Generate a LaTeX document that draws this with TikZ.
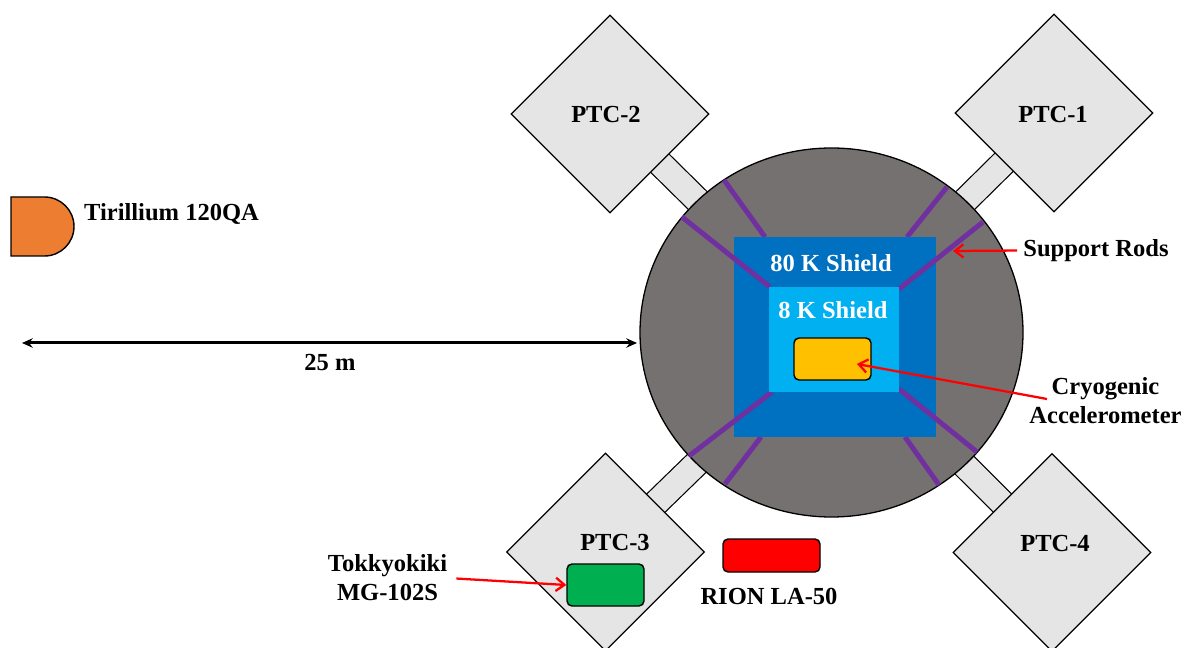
\documentclass[tikz,border=0pt]{standalone}
\usepackage{fontspec}
\setmainfont{Liberation Serif}
\usetikzlibrary{arrows.meta,backgrounds,shapes.geometric,shapes.misc}
\definecolor{vesselgray}{HTML}{767171}
\definecolor{ptcgray}{HTML}{E5E5E5}
\definecolor{shieldA}{HTML}{0070C0}
\definecolor{shieldB}{HTML}{00B0F0}
\definecolor{rodpurple}{HTML}{7030A0}
\definecolor{speakerorange}{HTML}{ED7D31}
\definecolor{accelyellow}{HTML}{FFC000}
\definecolor{micgreen}{HTML}{00B050}
\def\px{0.75pt}

\begin{document}
\begin{tikzpicture}[x=\px,y=-\px,
lab/.style={font=\fontsize{18.4}{21.75}\selectfont\bfseries,align=center,inner sep=0},
ptc/.style={draw,diamond,aspect=1,fill=ptcgray,minimum width=198*\px,minimum height=198*\px,inner sep=0,line width=1.2*\px},
stub/.style={double=ptcgray,double distance=24.5*\px,line width=1.2*\px},
shield/.style={rectangle,inner sep=0,outer sep=0},
box/.style={draw,rectangle,rounded corners=5*\px,inner sep=0,line width=1.4*\px},
rod/.style={rodpurple,line width=5*\px},
pointer/.style={-{Straight Barb[length=6.5pt,width=10pt]},red,line width=1.7pt},
dim/.style={{Stealth[length=8pt,width=7pt]}-{Stealth[length=8pt,width=7pt]},line width=3*\px}]
	\useasboundingbox (0,0) rectangle (1185,648);
	\clip (0,0) rectangle (1185,648);

	\node[draw,ellipse,fill=vesselgray,minimum width=383*\px,minimum height=369*\px,inner sep=0,line width=1.3*\px] at (831.5,332.5) (vessel) {};
	\node[ptc] at (610,114) (ptc2) {};
	\node[ptc] at (1054,113) (ptc1) {};
	\node[ptc] at (605.5,552) (ptc3) {};
	\node[ptc] at (1052,552.5) (ptc4) {};

	\begin{scope}[on background layer]
		\foreach \i in {1,...,4} {
			\draw[stub] (ptc\i.center) -- (vessel.center);
		}
	\end{scope}

	%rod ends
	\foreach \n/\x/\y in {a1/724/180,a2/765/237,b1/947/187,b2/907/237,c1/725/484,c2/761/437,d1/939/485,d2/905/437,
		e1/682/217,e2/770/287,f1/983/222,f2/899/289,g1/689/456,g2/772/392,h1/977/452,h2/899/389} {
		\coordinate (\n) at (\x,\y);
	}
	%rods behind the 80 K shield
	\foreach \n in {a,b,c,d} {
		\draw[rod] (\n1) -- (\n2);
	}
	\node[shield,fill=shieldA,minimum width=202*\px,minimum height=200*\px] at (835,337) (outer) {};
	%rods in front of it
	\foreach \n in {e,f,g,h} {
		\draw[rod] (\n1) -- (\n2);
	}
	\node[shield,fill=shieldB,minimum width=130*\px,minimum height=105*\px] at (834,339.5) (inner) {};

	\node[box,fill=accelyellow,minimum width=77*\px,minimum height=42*\px] at (832.5,359) (accel) {};
	\node[box,fill=micgreen,minimum width=77*\px,minimum height=42*\px] at (605.5,585) (mic) {};
	\node[box,fill=red,minimum width=97*\px,minimum height=33*\px] at (771.5,555.5) (meter) {};
	\node[draw,rounded rectangle,rounded rectangle west arc=none,fill=speakerorange,minimum width=63*\px,minimum height=59*\px,inner sep=0,line width=1.4*\px] at (42.5,226.5) (speaker) {};

	\node[lab] at (606,115) (l2) {PTC-2};
	\node[lab] at (1053,115) (l1) {PTC-1};
	\node[lab] at (615,542) (l3) {PTC-3};
	\node[lab] at (1055,543) (l4) {PTC-4};
	\node[lab,text=white] at (831,263) (lo) {80 K Shield};
	\node[lab,text=white] at (833,310) (li) {8 K Shield};
	\node[lab] at (171.5,214) (lspk) {Tirillium 120QA};
	\node[lab] at (330,362) (ldist) {25 m};
	\node[lab] at (1096,250.5) (lrod) {Support Rods};
	\node[lab] at (1105.5,401) (lcry) {Cryogenic\\Accelerometer};
	\node[lab] at (387.5,578) (lmic) {Tokkyokiki\\MG-102S};
	\node[lab] at (769,596) (lmet) {RION LA-50};

	\coordinate (p1) at (22,343);
	\coordinate (p2) at (637,343);
	\draw[dim] (p1) -- (p2);

	\coordinate (p3) at (953,251);
	\coordinate (p4) at (1047,399);
	\coordinate (p5) at (857,364);
	\draw[pointer,shorten <=6*\px] (lrod.west) -- (p3);
	\draw[pointer] (p4) -- (p5);
	\draw[pointer,shorten <=9*\px] (lmic.east) -- (mic.west);
\end{tikzpicture}
\end{document}
